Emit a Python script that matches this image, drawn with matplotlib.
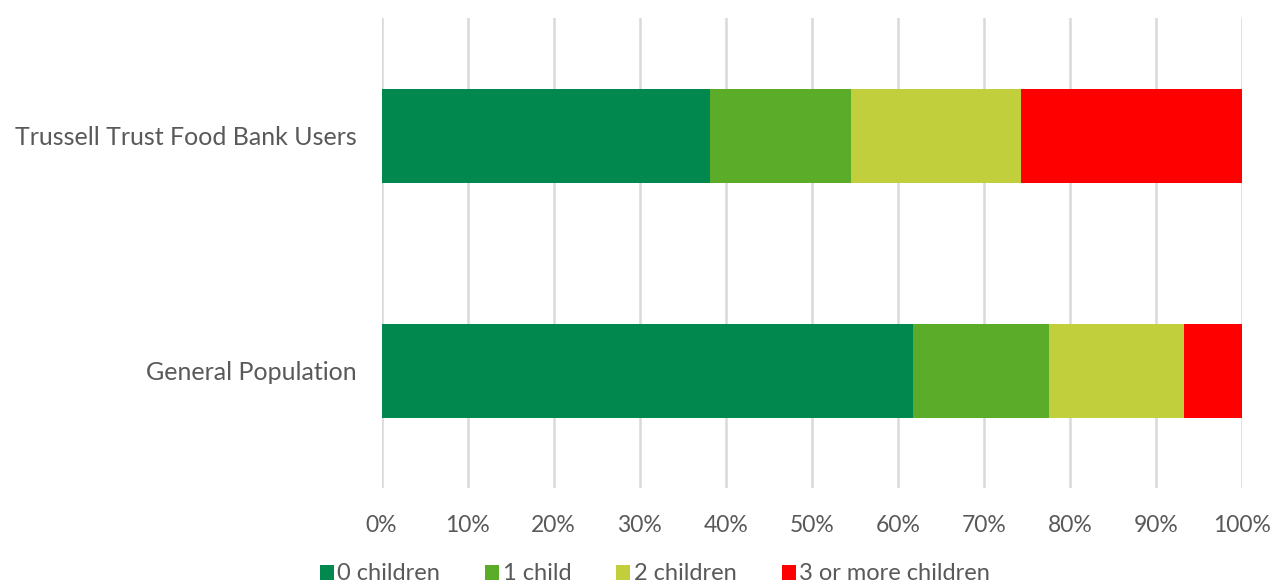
import numpy as np
import matplotlib.pyplot as plt

# data (percent of households)
groups = ["General Population", "Trussell Trust Food Bank Users"]
series = ["0 children", "1 child", "2 children", "3 or more children"]
zero_kids = [61.7, 38.2]
one_kid = [15.9, 16.3]
two_kids = [15.6, 19.8]
three_plus = [6.8, 25.7]
colours = ["#00884F", "#5BAC29", "#C0CF3B", "#FF0000"]

plt.rcParams['font.family'] = ['Lato', 'DejaVu Sans']
grey = "#595959"

fig = plt.figure(figsize=(12.74, 5.84), dpi=100)
ax = fig.add_axes([0.2995, 0.164, 0.6755, 0.805])

y = np.arange(len(groups))
left = np.zeros(len(groups))
for name, vals, c in zip(series, [zero_kids, one_kid, two_kids, three_plus], colours):
    ax.barh(y, vals, left=left, height=0.4, color=c, label=name, zorder=3)
    left += np.array(vals)

ax.set_xlim(0, 100)
ax.set_ylim(-0.5, 1.5)
ax.set_xticks(np.arange(0, 101, 10))
ax.set_xticklabels([f"{v}%" for v in range(0, 101, 10)])
ax.set_yticks(y)
ax.set_yticklabels(groups)
ax.tick_params(axis='x', length=0, labelsize=16.5, labelcolor=grey, pad=19)
ax.tick_params(axis='y', length=0, labelsize=18, labelcolor=grey, pad=18)
ax.grid(axis='x', color="#D9D9D9", linewidth=1.8, zorder=0)
for s in ax.spines.values():
    s.set_visible(False)

fig.legend(loc='center', bbox_to_anchor=(0.514, 1 - 574 / 584), ncol=4,
           frameon=False, fontsize=17, labelcolor=grey, handlelength=0.6,
           handleheight=0.6, handletextpad=0.15, columnspacing=1.9)

fig.savefig("out.png", dpi=100)
